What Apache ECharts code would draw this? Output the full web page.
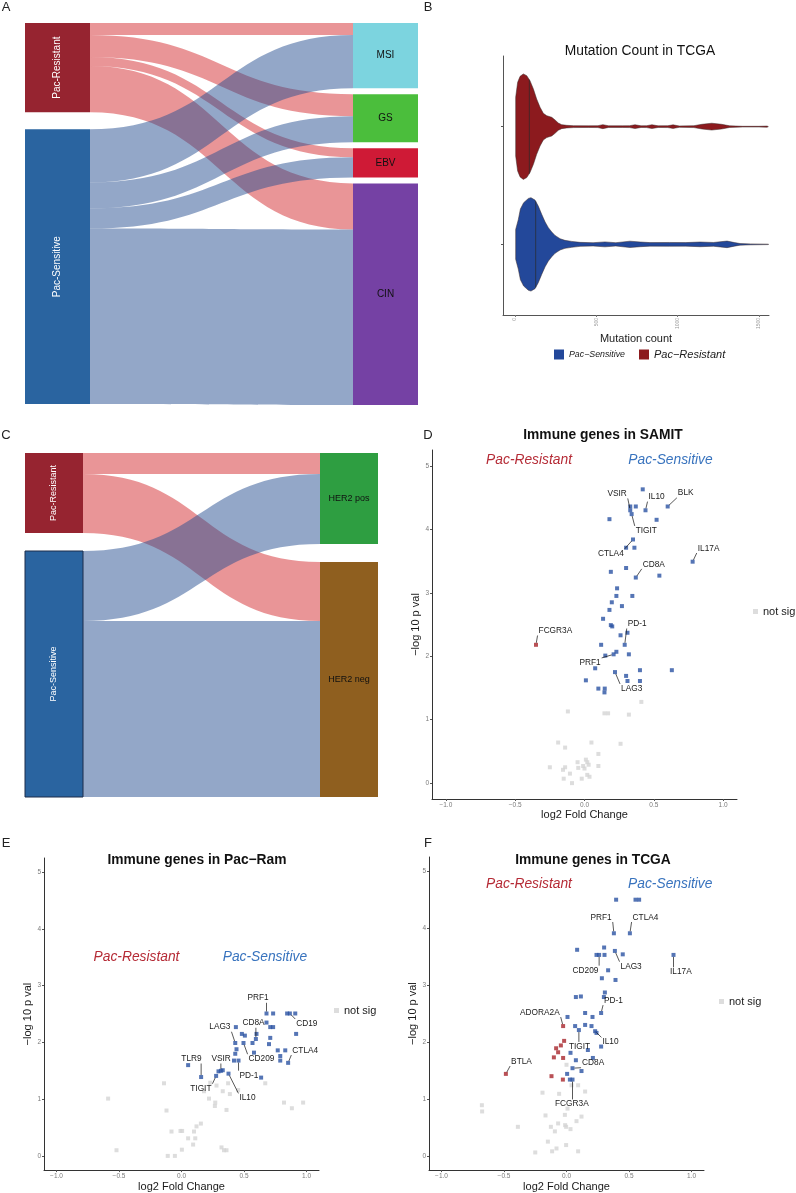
<!DOCTYPE html>
<html><head><meta charset="utf-8">
<script src="https://cdn.jsdelivr.net/npm/echarts@6/dist/echarts.min.js"></script>
<style>html,body{margin:0;padding:0;background:#fff}#c{width:796px;height:1193px}</style>
</head><body><div id="c"></div>
<script>
const FONT = '"Liberation Sans", Arial, Helvetica, sans-serif';

// ---------- Panel A : sankey (response -> molecular subtype) ----------
const aSources = ['Pac-Resistant', 'Pac-Sensitive'];
const aTargets = ['MSI', 'GS', 'EBV', 'CIN'];
const aResistant = [12, 22, 9, 46];
const aSensitive = [53, 26, 20, 175];

// ---------- Panel C : sankey (response -> HER2) ----------
const cSources = ['Pac-Resistant', 'Pac-Sensitive'];
const cTargets = ['HER2 pos', 'HER2 neg'];
const cResistant = [21, 59];
const cSensitive = [70, 176];

// ---------- Panel B : violin (mutation count) ----------
const bGroups = ['Pac−Sensitive', 'Pac−Resistant'];
const bTicks = [0, 500, 1000, 1500];
const bMedians = [127, 88];
// [mutation count, half width in category units]
const bSensitiveProfile = [[4,0.127],[20,0.21],[33,0.30],[53,0.354],[82,0.39],[98,0.397],[123,0.376],[143,0.325],[164,0.255],[185,0.19],[205,0.142],[226,0.105],[246,0.076],[277,0.048],[307,0.034],[349,0.025],[400,0.017],[480,0.014],[553,0.021],[620,0.014],[707,0.027],[770,0.02],[830,0.015],[950,0.016],[1050,0.015],[1138,0.02],[1220,0.016],[1304,0.028],[1350,0.015],[1384,0.007],[1450,0.004],[1556,0.002],[1560,0]];
const bResistantProfile = [[4,0.25],[16,0.376],[31,0.427],[51,0.448],[72,0.433],[92,0.39],[113,0.32],[133,0.235],[154,0.164],[174,0.113],[195,0.093],[226,0.079],[246,0.057],[266,0.031],[287,0.017],[318,0.011],[360,0.008],[450,0.007],[510,0.008],[540,0.017],[575,0.007],[660,0.007],[705,0.008],[738,0.016],[775,0.007],[810,0.008],[842,0.016],[880,0.007],[940,0.008],[972,0.015],[1010,0.006],[1100,0.008],[1150,0.02],[1210,0.029],[1270,0.02],[1320,0.007],[1400,0.003],[1500,0.003],[1550,0.005],[1558,0]];

// ---------- Volcano plots ----------
const vxTicks = [-1, -0.5, 0, 0.5, 1];
const vyTicks = [0, 1, 2, 3, 4, 5];
const annTexts = ['Pac-Resistant', 'Pac-Sensitive'];

// D : SAMIT
const dGrey = [[0.41,1.28],[-0.12,1.13],[0.144,1.10],[0.17,1.10],[0.32,1.08],[-0.19,0.64],[0.05,0.64],[0.26,0.62],[-0.14,0.56],[0.10,0.46],[-0.25,0.25],[-0.14,0.25],[-0.155,0.21],[-0.105,0.15],[-0.05,0.33],[-0.045,0.24],[0.0,0.23],[0.01,0.37],[0.02,0.33],[0.03,0.29],[0.10,0.27],[0.02,0.13],[0.036,0.10],[-0.02,0.07],[-0.15,0.07],[-0.09,0.0],[-0.01,0.27]];
const dBlue = [[0.42,4.63],[0.33,4.36],[0.37,4.36],[0.33,4.30],[0.34,4.24],[0.44,4.30],[0.60,4.36],[0.18,4.16],[0.52,4.15],[0.35,3.84],[0.30,3.71],[0.36,3.71],[0.78,3.49],[0.19,3.33],[0.30,3.39],[0.37,3.24],[0.54,3.27],[0.235,3.07],[0.23,2.95],[0.345,2.95],[0.197,2.85],[0.27,2.79],[0.18,2.73],[0.134,2.59],[0.19,2.49],[0.20,2.47],[0.31,2.37],[0.26,2.33],[0.29,2.18],[0.12,2.18],[0.15,2.01],[0.21,2.03],[0.23,2.07],[0.32,2.03],[0.077,1.81],[0.01,1.62],[0.10,1.49],[0.146,1.49],[0.144,1.43],[0.22,1.75],[0.30,1.69],[0.31,1.61],[0.40,1.78],[0.40,1.61],[0.63,1.78]];
const dRed = [[-0.35,2.18]];
const dLabels = [['VSIR',0.33,4.30,0.235,4.56],['IL10',0.44,4.30,0.52,4.51],['BLK',0.60,4.36,0.73,4.57],['TIGIT',0.34,4.24,0.446,3.98],['CTLA4',0.35,3.84,0.19,3.62],['IL17A',0.78,3.49,0.895,3.70],['CD8A',0.37,3.24,0.50,3.45],['PD-1',0.29,2.18,0.38,2.51],['FCGR3A',-0.35,2.18,-0.21,2.40],['PRF1',0.21,2.03,0.04,1.90],['LAG3',0.22,1.75,0.34,1.49]];
const dAnnot = [[-0.40,5.09],[0.62,5.09]];

// E : Pac-Ram
const eGrey = [[-0.14,1.28],[-0.587,1.01],[-0.12,0.80],[-0.08,0.43],[-0.008,0.44],[0.005,0.44],[0.10,0.43],[0.12,0.52],[0.155,0.57],[0.053,0.31],[0.11,0.31],[0.093,0.20],[0.003,0.11],[-0.11,0.0],[-0.053,0.0],[-0.52,0.10],[0.32,0.15],[0.34,0.10],[0.36,0.10],[0.22,1.01],[0.23,1.29],[0.28,1.24],[0.33,1.14],[0.373,1.28],[0.387,1.09],[0.27,0.94],[0.267,0.88],[0.36,0.81],[0.453,1.16],[0.67,1.28],[0.82,0.94],[0.883,0.84],[0.973,0.94],[0.18,1.14]];
const eBlue = [[0.68,2.51],[0.733,2.51],[0.845,2.51],[0.867,2.51],[0.91,2.51],[0.68,2.35],[0.71,2.27],[0.733,2.27],[0.435,2.27],[0.483,2.15],[0.507,2.12],[0.6,2.15],[0.595,2.06],[0.71,2.08],[0.917,2.15],[0.43,1.99],[0.496,1.99],[0.568,1.99],[0.70,1.97],[0.44,1.88],[0.43,1.80],[0.58,1.82],[0.77,1.86],[0.83,1.86],[0.79,1.76],[0.79,1.68],[0.853,1.64],[0.42,1.68],[0.456,1.68],[0.053,1.60],[0.157,1.39],[0.296,1.49],[0.315,1.50],[0.33,1.51],[0.277,1.41],[0.376,1.45],[0.637,1.38]];
const eRed = [];
const eLabels = [['PRF1',0.68,2.51,0.613,2.78],['CD19',0.867,2.51,1.003,2.33],['CD8A',0.595,2.06,0.576,2.34],['LAG3',0.43,1.99,0.307,2.27],['CTLA4',0.853,1.64,0.99,1.86],['CD209',0.496,1.99,0.64,1.71],['TLR9',0.157,1.39,0.08,1.71],['VSIR',0.315,1.50,0.317,1.71],['PD-1',0.456,1.68,0.54,1.42],['TIGIT',0.277,1.41,0.155,1.19],['IL10',0.376,1.45,0.528,1.02]];
const eAnnot = [[-0.36,3.51],[0.667,3.51]];

// F : TCGA
const fGrey = [[0.0,1.60],[0.04,1.24],[0.093,1.24],[0.149,1.13],[-0.192,1.11],[-0.059,1.09],[-0.677,0.89],[-0.675,0.78],[0.008,0.83],[-0.168,0.71],[-0.013,0.72],[0.12,0.69],[0.08,0.61],[-0.067,0.57],[-0.125,0.51],[-0.011,0.54],[-0.003,0.51],[0.032,0.47],[-0.389,0.51],[-0.093,0.43],[-0.149,0.25],[-0.003,0.19],[-0.08,0.13],[-0.115,0.08],[0.093,0.08],[-0.25,0.06]];
const fBlue = [[0.397,4.50],[0.552,4.50],[0.581,4.50],[0.379,3.91],[0.507,3.91],[0.085,3.62],[0.301,3.66],[0.24,3.53],[0.261,3.53],[0.304,3.53],[0.387,3.60],[0.45,3.54],[0.856,3.53],[0.333,3.26],[0.283,3.12],[0.392,3.09],[0.307,2.87],[0.075,2.79],[0.115,2.80],[0.299,2.79],[0.277,2.51],[0.149,2.51],[0.008,2.44],[0.208,2.44],[0.069,2.28],[0.149,2.30],[0.20,2.28],[0.099,2.21],[0.229,2.19],[0.24,2.16],[0.277,1.92],[0.171,1.86],[0.032,1.81],[0.211,1.72],[0.075,1.68],[0.048,1.54],[0.12,1.49],[0.005,1.44],[0.027,1.34],[0.048,1.34]];
const fRed = [[-0.027,2.28],[-0.019,2.02],[-0.045,1.94],[-0.083,1.89],[-0.067,1.82],[-0.101,1.73],[-0.027,1.72],[-0.485,1.44],[-0.12,1.40],[-0.029,1.34]];
const fLabels = [['PRF1',0.379,3.91,0.277,4.19],['CTLA4',0.507,3.91,0.632,4.19],['LAG3',0.387,3.60,0.517,3.33],['CD209',0.261,3.53,0.152,3.26],['IL17A',0.856,3.53,0.915,3.23],['PD-1',0.277,2.51,0.376,2.73],['ADORA2A',-0.027,2.28,-0.213,2.52],['IL10',0.229,2.19,0.352,2.00],['TIGIT',0.099,2.21,0.104,1.92],['CD8A',0.048,1.54,0.213,1.63],['BTLA',-0.485,1.44,-0.36,1.66],['FCGR3A',0.048,1.34,0.043,0.91]];
const fAnnot = [[-0.30,4.77],[0.83,4.77]];

// ---------- styles ----------
const RES_NODE = '#962430', SEN_NODE = '#2A64A0';
const RES_LINK = 'rgb(205,10,15)', SEN_LINK = 'rgb(40,80,145)';
const TARGET_COLORS_A = ['#7CD4DF', '#4BBE3C', '#CF1A36', '#7541A4'];
const TARGET_COLORS_C = ['#2E9E41', '#8F5F1F'];
const VIOLIN_COLORS = ['#23489A', '#8C1A1E'];
const BLUE_PT = '#2A52A2', RED_PT = '#A8262C', GREY_PT = '#D4D4D4';
const ANN_COLORS = ['#B52B36', '#3873BE'];
const GENE_FS = 8.3;

const measureCtx = document.createElement('canvas').getContext('2d');
function textW(t, font) { measureCtx.font = font; return measureCtx.measureText(t).width; }

function buildSankey(box, sources, targets, resVals, senVals, tColors, fs, spacer, senBorder) {
  const nodes = [];
  nodes.push({ name: sources[0], itemStyle: { color: RES_NODE }, label: { rotate: 90, color: '#fff' } });
  if (spacer) nodes.push({ name: '\u2003', value: spacer, itemStyle: { color: 'rgba(0,0,0,0)' }, label: { show: false } });
  nodes.push({ name: sources[1], itemStyle: { color: SEN_NODE, borderWidth: senBorder ? 1 : 0, borderColor: '#1d2d4a' }, label: { rotate: 90, color: '#fff' } });
  targets.forEach((t, i) => nodes.push({ name: t, itemStyle: { color: tColors[i] }, label: { color: '#111' } }));
  const links = [];
  targets.forEach((t, i) => links.push({ source: sources[0], target: t, value: resVals[i], lineStyle: { color: RES_LINK, opacity: 0.43 } }));
  targets.forEach((t, i) => links.push({ source: sources[1], target: t, value: senVals[i], lineStyle: { color: SEN_LINK, opacity: 0.5 } }));
  return Object.assign({
    type: 'sankey', layoutIterations: 0, nodeAlign: 'left', draggable: false, silent: true,
    emphasis: { disabled: true },
    label: { position: 'inside', fontFamily: FONT, fontSize: fs, color: '#111' },
    itemStyle: { borderWidth: 0 },
    lineStyle: { curveness: 0.5 },
    data: nodes, links: links
  }, box);
}

function violinSeries(name, profile, center, median, color) {
  return {
    type: 'custom', name: name, coordinateSystem: 'cartesian2d', xAxisIndex: 0, yAxisIndex: 0,
    itemStyle: { color: color }, silent: true, clip: false,
    encode: { x: 0, y: 1 },
    data: [[median, center]],
    renderItem: function (params, api) {
      const c = api.value(1), med = api.value(0);
      const pts = [];
      profile.forEach(p => pts.push(api.coord([p[0], c + p[1]])));
      for (let i = profile.length - 1; i >= 0; i--) pts.push(api.coord([profile[i][0], c - profile[i][1]]));
      let hw = 0;
      for (let i = 0; i < profile.length - 1; i++) {
        if (med >= profile[i][0] && med <= profile[i + 1][0]) {
          const t = (med - profile[i][0]) / (profile[i + 1][0] - profile[i][0]);
          hw = profile[i][1] + t * (profile[i + 1][1] - profile[i][1]);
        }
      }
      const a = api.coord([med, c + hw]), b = api.coord([med, c - hw]);
      return { type: 'group', children: [
        { type: 'polygon', shape: { points: pts }, style: { fill: color, stroke: '#3a2a2a', lineWidth: 0.5 } },
        { type: 'line', shape: { x1: a[0], y1: a[1], x2: b[0], y2: b[1] }, style: { stroke: '#2b2b2b', lineWidth: 0.7 } }
      ] };
    }
  };
}

function volcanoSeries(idx, grey, blue, red, labels, annot) {
  const list = [];
  list.push({ type: 'scatter', name: 'not sig', xAxisIndex: idx, yAxisIndex: idx, symbol: 'rect', symbolSize: 4, itemStyle: { color: GREY_PT }, data: grey, silent: true, z: 2 });
  list.push({ type: 'scatter', name: 'sig sensitive', xAxisIndex: idx, yAxisIndex: idx, symbol: 'rect', symbolSize: 4, itemStyle: { color: BLUE_PT }, data: blue, silent: true, z: 3 });
  list.push({ type: 'scatter', name: 'sig resistant', xAxisIndex: idx, yAxisIndex: idx, symbol: 'rect', symbolSize: 4, itemStyle: { color: RED_PT }, data: red, silent: true, z: 3 });
  const gfont = GENE_FS + 'px ' + FONT;
  list.push({
    type: 'custom', name: 'gene labels', coordinateSystem: 'cartesian2d', xAxisIndex: idx, yAxisIndex: idx, silent: true, clip: false, z: 4,
    encode: { x: [0, 2], y: [1, 3] },
    data: labels.map(l => [l[1], l[2], l[3], l[4]]),
    renderItem: function (params, api) {
      const name = labels[params.dataIndex][0];
      const p = api.coord([api.value(0), api.value(1)]);
      const c = api.coord([api.value(2), api.value(3)]);
      const w = textW(name, gfont) / 2 + 1, h = GENE_FS / 2 + 0.5;
      const qx = Math.max(c[0] - w, Math.min(p[0], c[0] + w));
      const qy = Math.max(c[1] - h, Math.min(p[1], c[1] + h));
      const d = Math.hypot(qx - p[0], qy - p[1]);
      const children = [];
      if (d > 4) {
        const sx = p[0] + (qx - p[0]) * 2 / d, sy = p[1] + (qy - p[1]) * 2 / d;
        children.push({ type: 'line', shape: { x1: sx, y1: sy, x2: qx, y2: qy }, style: { stroke: '#111', lineWidth: 0.7 } });
      }
      children.push({ type: 'text', x: c[0], y: c[1], style: { text: name, font: gfont, fill: '#1a1a1a', align: 'center', verticalAlign: 'middle', textAlign: 'center', textVerticalAlign: 'middle' } });
      return { type: 'group', children: children };
    }
  });
  const afont = 'italic 13.8px ' + FONT;
  list.push({
    type: 'custom', name: 'annotations', coordinateSystem: 'cartesian2d', xAxisIndex: idx, yAxisIndex: idx, silent: true, clip: false, z: 4,
    encode: { x: 0, y: 1 },
    data: annot,
    renderItem: function (params, api) {
      const c = api.coord([api.value(0), api.value(1)]);
      return { type: 'text', x: c[0], y: c[1], style: { text: annTexts[params.dataIndex], font: afont, fill: ANN_COLORS[params.dataIndex], align: 'center', verticalAlign: 'middle', textAlign: 'center', textVerticalAlign: 'middle' } };
    }
  });
  return list;
}

function volcanoXAxis(idx, gap) {
  return {
    type: 'value', gridIndex: idx, min: -1.1, max: 1.1,
    name: 'log2 Fold Change', nameLocation: 'middle', nameGap: gap,
    nameTextStyle: { fontFamily: FONT, fontSize: 11, color: '#1a1a1a' },
    axisLine: { show: true, onZero: false, lineStyle: { color: '#333', width: 1 } },
    axisTick: { show: true, length: 2, customValues: vxTicks, lineStyle: { color: '#555' } },
    axisLabel: { customValues: vxTicks, fontFamily: FONT, fontSize: 6.5, color: '#7a7a7a', margin: 3,
      formatter: v => (v < 0 ? '−' : '') + Math.abs(v).toFixed(1) },
    splitLine: { show: false }
  };
}
function volcanoYAxis(idx, gap) {
  return {
    type: 'value', gridIndex: idx, min: -0.25, max: 5.25,
    name: '−log 10 p val', nameLocation: 'middle', nameGap: gap, nameRotate: 90,
    nameTextStyle: { fontFamily: FONT, fontSize: 11, color: '#1a1a1a' },
    axisLine: { show: true, onZero: false, lineStyle: { color: '#333', width: 1 } },
    axisTick: { show: true, length: 2, customValues: vyTicks, lineStyle: { color: '#555' } },
    axisLabel: { customValues: vyTicks, fontFamily: FONT, fontSize: 6.5, color: '#7a7a7a', margin: 3 },
    splitLine: { show: false }
  };
}

function txt(x, y, s, font, color) {
  return { type: 'text', x: x, y: y, silent: true, style: { text: s, font: font, fill: color || '#1a1a1a', textAlign: 'center', textVerticalAlign: 'middle', align: 'center', verticalAlign: 'middle' } };
}

const chart = echarts.init(document.getElementById('c'), null, { renderer: 'canvas', width: 796, height: 1193 });

const series = [];
series.push(buildSankey({ left: 25, top: 23, width: 393, height: 382, nodeWidth: 65, nodeGap: 6 }, aSources, aTargets, aResistant, aSensitive, TARGET_COLORS_A, 10, 5, false));
series.push(buildSankey({ left: 25, top: 453, width: 353, height: 344, nodeWidth: 58, nodeGap: 18 }, cSources, cTargets, cResistant, cSensitive, TARGET_COLORS_C, 9, 0, true));
series.push(violinSeries(bGroups[0], bSensitiveProfile, 1, bMedians[0], VIOLIN_COLORS[0]));
series.push(violinSeries(bGroups[1], bResistantProfile, 2, bMedians[1], VIOLIN_COLORS[1]));
volcanoSeries(1, dGrey, dBlue, dRed, dLabels, dAnnot).forEach(s => series.push(s));
volcanoSeries(2, eGrey, eBlue, eRed, eLabels, eAnnot).forEach(s => series.push(s));
volcanoSeries(3, fGrey, fBlue, fRed, fLabels, fAnnot).forEach(s => series.push(s));

const legendNS = (left, top) => ({
  left: left, top: top, padding: 0, orient: 'horizontal', selectedMode: false,
  itemWidth: 5, itemHeight: 5, itemGap: 4,
  data: [{ name: 'not sig', icon: 'rect' }],
  textStyle: { fontFamily: FONT, fontSize: 11, color: '#1a1a1a' }
});

const option = {
  animation: false,
  backgroundColor: '#fff',
  textStyle: { fontFamily: FONT },
  grid: [
    { left: 503, top: 56, width: 266, height: 259 },
    { left: 432, top: 450, width: 305, height: 349 },
    { left: 44, top: 858, width: 275, height: 314 },
    { left: 429, top: 857, width: 275, height: 314 }
  ],
  xAxis: [
    {
      type: 'value', gridIndex: 0, min: -74, max: 1562,
      name: 'Mutation count', nameLocation: 'middle', nameGap: 17,
      nameTextStyle: { fontFamily: FONT, fontSize: 11, color: '#1a1a1a' },
      axisLine: { show: true, onZero: false, lineStyle: { color: '#555', width: 1 } },
      axisTick: { show: true, length: 2, customValues: bTicks, lineStyle: { color: '#777' } },
      axisLabel: { customValues: bTicks, rotate: 90, fontFamily: FONT, fontSize: 5, color: '#999', margin: 3, formatter: v => String(v) },
      splitLine: { show: false }
    },
    volcanoXAxis(1, 10), volcanoXAxis(2, 8), volcanoXAxis(3, 10)
  ],
  yAxis: [
    {
      type: 'value', gridIndex: 0, min: 0.4, max: 2.6,
      axisLine: { show: true, onZero: false, lineStyle: { color: '#555', width: 1 } },
      axisTick: { show: true, length: 2, customValues: [1, 2], lineStyle: { color: '#555' } },
      axisLabel: { show: false },
      splitLine: { show: false }
    },
    volcanoYAxis(1, 9), volcanoYAxis(2, 7), volcanoYAxis(3, 7)
  ],
  legend: [
    {
      left: 554, top: 349, padding: 0, selectedMode: false,
      itemWidth: 10, itemHeight: 10, itemGap: 14,
      data: [{ name: bGroups[0], icon: 'rect' }, { name: bGroups[1], icon: 'rect' }],
      formatter: n => (n === bGroups[0] ? '{s|' + n + '}' : '{r|' + n + '}'),
      textStyle: { fontFamily: FONT, color: '#1a1a1a', rich: {
        s: { fontSize: 8.8, fontStyle: 'italic', fontFamily: FONT, color: '#1a1a1a' },
        r: { fontSize: 11, fontStyle: 'italic', fontFamily: FONT, color: '#1a1a1a' } } }
    },
    legendNS(753, 606), legendNS(334, 1005), legendNS(719, 996)
  ],
  graphic: [
    txt(6, 7, 'A', '13px ' + FONT, '#222'),
    txt(428, 7, 'B', '13px ' + FONT, '#222'),
    txt(6, 435, 'C', '13px ' + FONT, '#222'),
    txt(428, 435, 'D', '13px ' + FONT, '#222'),
    txt(6, 843, 'E', '13px ' + FONT, '#222'),
    txt(428, 843, 'F', '13px ' + FONT, '#222'),
    txt(640, 51, 'Mutation Count in TCGA', '13.8px ' + FONT, '#111'),
    txt(603, 435, 'Immune genes in SAMIT', 'bold 13.8px ' + FONT, '#111'),
    txt(197, 860, 'Immune genes in Pac−Ram', 'bold 13.8px ' + FONT, '#111'),
    txt(593, 860, 'Immune genes in TCGA', 'bold 13.8px ' + FONT, '#111')
  ],
  series: series
};
chart.setOption(option);
</script></body></html>
